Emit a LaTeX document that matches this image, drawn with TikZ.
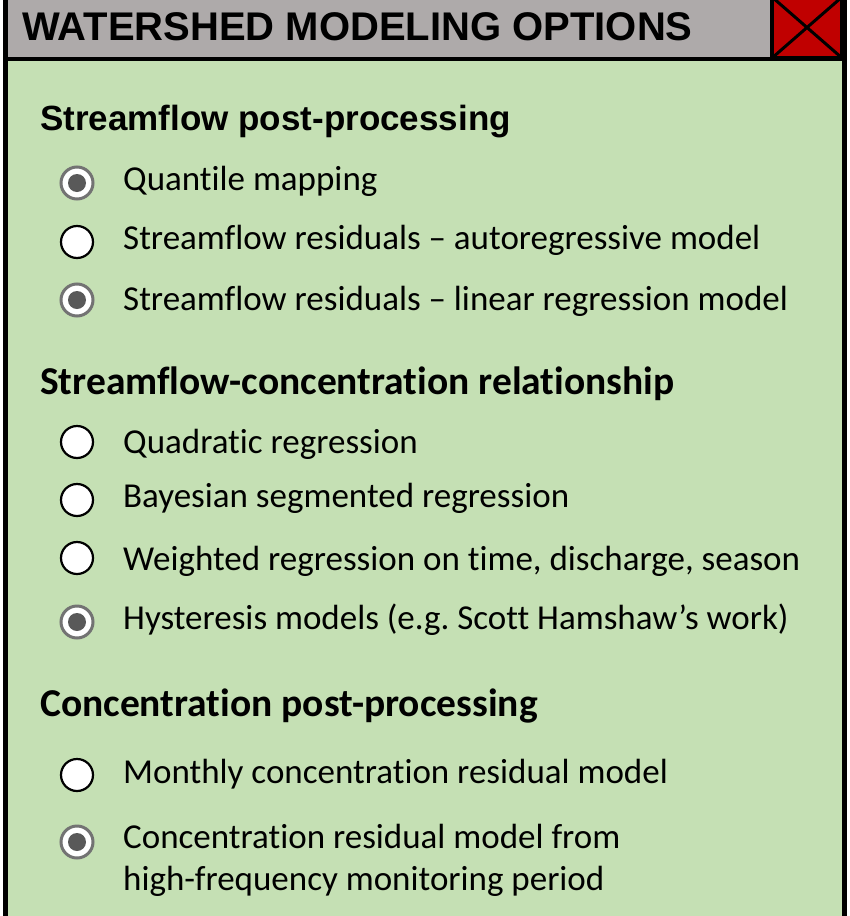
\documentclass[tikz,border=0pt]{standalone}
\usepackage{fontspec}
\setmainfont{Carlito}[Ligatures=NoCommon]
\newfontfamily\arialfont{Liberation Sans}
\usetikzlibrary{positioning}
\definecolor{panelgreen}{RGB}{197,224,180}
\definecolor{bargray}{RGB}{174,170,170}
\definecolor{closered}{RGB}{192,0,0}
\definecolor{dotgray}{RGB}{89,89,89}

\begin{document}
\begin{tikzpicture}[x=1pt, y=-1pt,
  TI/.style={anchor=base west, inner sep=0pt, font=\fontsize{40}{44}\selectfont\arialfont\bfseries},
  HA/.style={anchor=base west, inner sep=0pt, font=\fontsize{35}{42}\selectfont\arialfont\bfseries},
  HD/.style={anchor=base west, inner sep=0pt, font=\fontsize{39.5}{44}\selectfont\bfseries},
  IT/.style={anchor=base west, inner sep=0pt, align=left, font=\fontsize{35}{42}\selectfont},
  RB/.style={circle, draw=black, line width=2.2pt, fill=white, minimum size=32pt, inner sep=0pt},
  RS/.style={RB, draw=black!55, line width=3pt,
             path picture={\fill[dotgray] (path picture bounding box.center) circle (9pt);}},
  CL/.style={draw=black, line width=4pt, fill=closered, minimum width=70pt, minimum height=61pt,
             inner sep=0pt,
             path picture={\draw[line width=3pt] (path picture bounding box.north west) -- (path picture bounding box.south east)
                                                 (path picture bounding box.north east) -- (path picture bounding box.south west);}}
]
  \useasboundingbox (0,0) rectangle (850,916);
  \clip (0,0) rectangle (850,916);

  % panel
  \fill[bargray] (5,-10) rectangle (845,58);
  \fill[panelgreen] (5,58) rectangle (845,930);
  \draw[line width=4pt] (5,58.5) -- (845,58.5);
  \draw[line width=5pt] (5.5,-10) -- (5.5,930) (844.5,-10) -- (844.5,930);

  \node[TI] (title) at (22,40) {WATERSHED MODELING OPTIONS};
  \node[CL] (close) at (807,27.5) {};

  % section headings
  \node[HA] (h-post) at (40,130) {Streamflow post-processing};
  \node[HD] (h-rel)  at (40,394) {Streamflow-concentration relationship};
  \node[HD] (h-conc) at (40,716) {Concentration post-processing};

  % options
  \foreach \nm/\cy/\by/\kind/\txt in {
      qm/183/190/RS/{Quantile mapping},
      ar/242/249/RB/{Streamflow residuals – autoregressive model},
      lr/300/310/RS/{Streamflow residuals – linear regression model},
      qr/442/453/RB/{Quadratic regression},
      bs/500/507/RB/{Bayesian segmented regression},
      wr/558/570/RB/{Weighted regression on time, discharge, season},
      hm/622/629/RS/{Hysteresis models (e.g.\ Scott Hamshaw’s work)},
      mc/775/783/RB/{Monthly concentration residual model},
      hf/842/890/RS/{Concentration residual model from\\high-frequency monitoring period}}
  {
    \node[\kind] (r-\nm) at (77,\cy) {};
    \node[IT] (t-\nm) at (123,\by) {\txt};
  }
\end{tikzpicture}
\end{document}
